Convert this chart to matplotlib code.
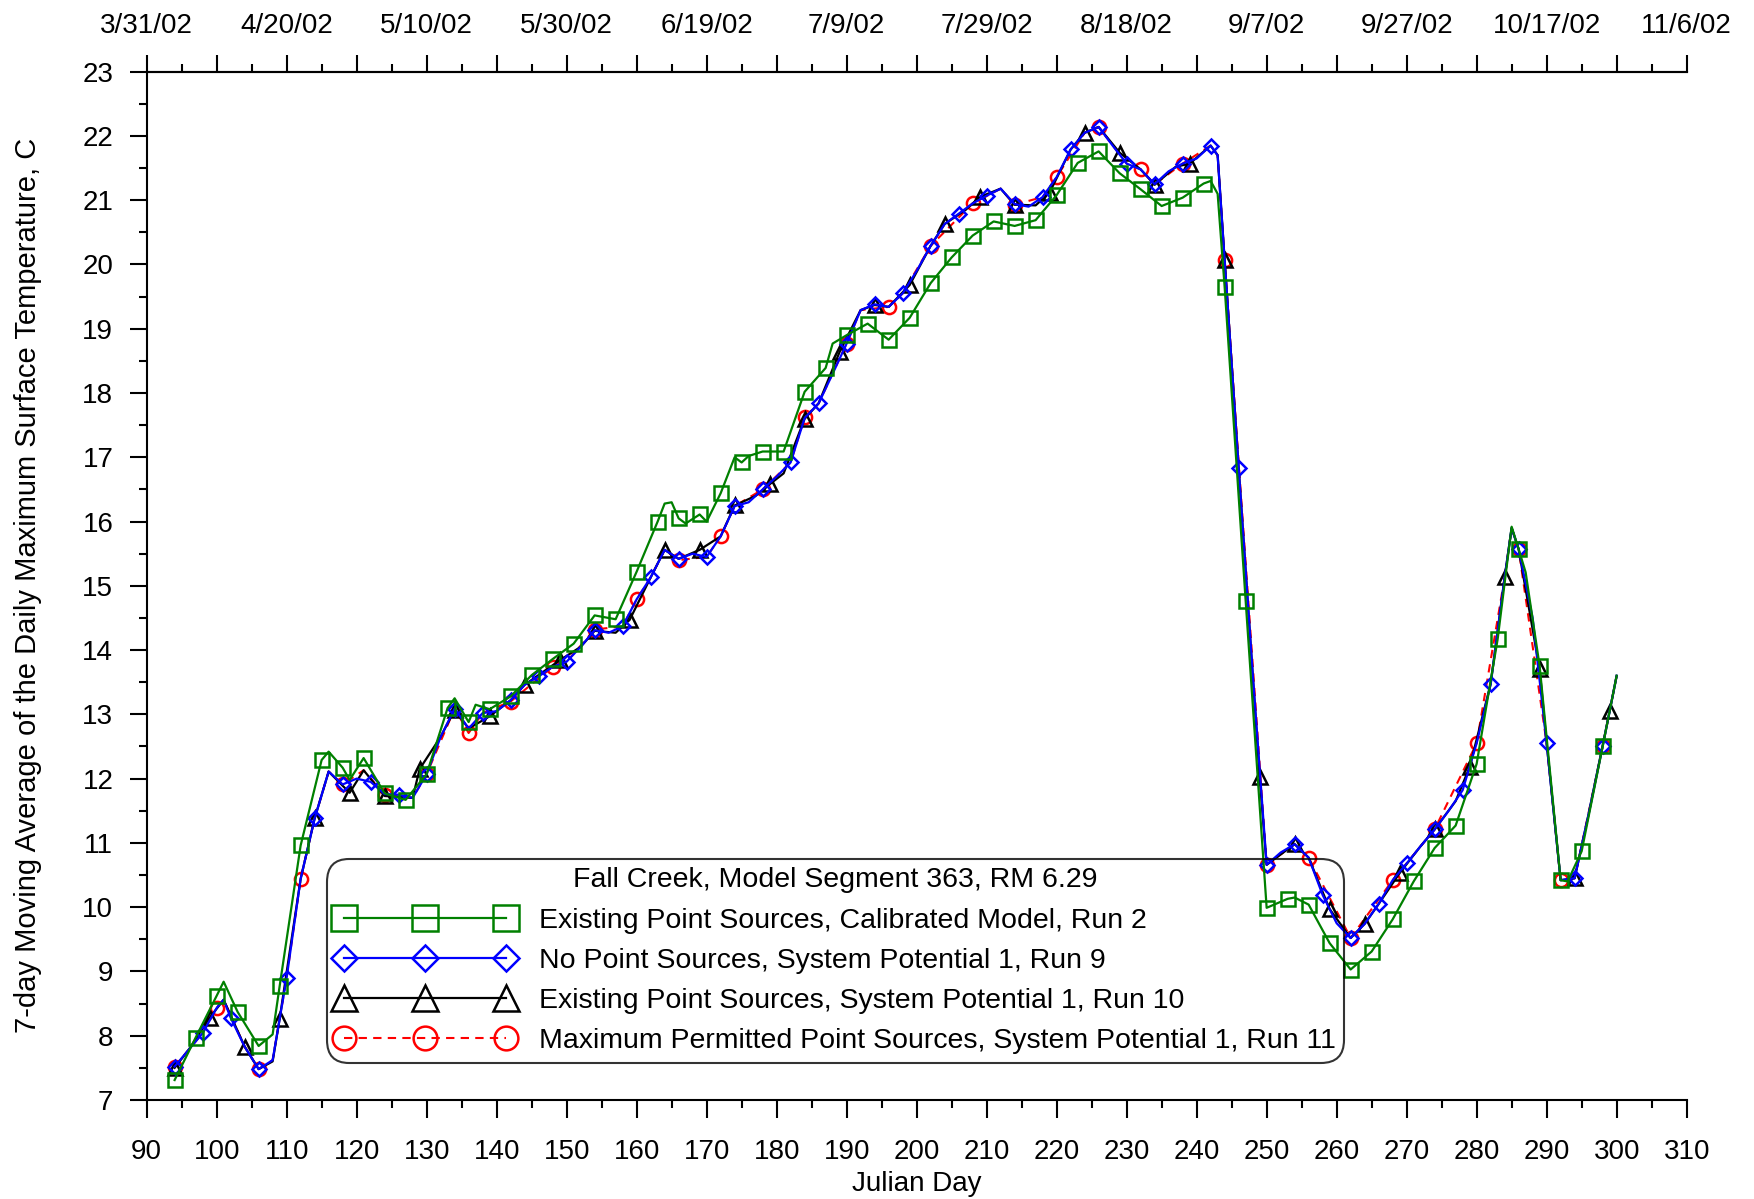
import datetime
import matplotlib
matplotlib.use("Agg")
import matplotlib.pyplot as plt
from matplotlib.ticker import MultipleLocator, FixedLocator, FuncFormatter

plt.rcParams['font.family'] = ['Liberation Sans', 'DejaVu Sans']

# Existing point sources, calibrated model (run 2) - green squares every 3 days
run2_day = [94, 97, 100, 101, 103, 106, 108, 109, 112, 115, 116, 118, 119, 121, 124, 127, 130, 133, 134, 136,
            137, 139, 142, 145, 148, 151, 154, 157, 160, 163, 164, 165, 166, 167, 169, 170, 172, 174, 175, 176,
            178, 181, 184, 187, 188, 190, 193, 196, 199, 202, 205, 208, 211, 214, 217, 220, 223, 226, 229, 232,
            235, 238, 241, 242, 243, 244, 247, 250, 253, 254, 256, 259, 262, 265, 268, 271, 274, 277, 280, 283,
            285, 286, 287, 289, 292, 293, 295, 298, 300]
run2_temp = [7.31, 7.97, 8.62, 8.84, 8.37, 7.84, 8.02, 8.77, 10.96, 12.29, 12.42, 12.17, 11.98, 12.32, 11.77, 11.67, 12.07, 13.10, 13.25, 12.88,
             13.15, 13.08, 13.28, 13.61, 13.86, 14.10, 14.54, 14.48, 15.22, 16.00, 16.28, 16.30, 16.05, 15.97, 16.11, 16.00, 16.44, 17.00, 16.92, 17.02,
             17.09, 17.09, 18.02, 18.39, 18.77, 18.90, 19.08, 18.83, 19.17, 19.71, 20.11, 20.45, 20.67, 20.60, 20.69, 21.08, 21.58, 21.76, 21.42, 21.17,
             20.91, 21.04, 21.26, 21.30, 21.10, 19.65, 14.77, 9.99, 10.13, 10.15, 10.04, 9.44, 9.03, 9.31, 9.81, 10.40, 10.92, 11.27, 12.23, 14.17,
             15.92, 15.57, 15.21, 13.75, 10.42, 10.40, 10.87, 12.50, 13.60]

# No point sources, system potential (run 9) - blue diamonds every 4 days
run9_day = [94, 96, 98, 100, 101, 102, 104, 106, 108, 110, 112, 114, 116, 118, 120, 122, 124, 126, 128, 130,
            132, 134, 136, 138, 140, 142, 144, 146, 148, 150, 152, 154, 156, 158, 160, 162, 164, 166, 168, 170,
            172, 174, 176, 178, 180, 182, 184, 186, 188, 190, 192, 194, 196, 198, 200, 202, 204, 206, 208, 210,
            212, 214, 216, 218, 220, 222, 224, 226, 228, 230, 232, 234, 236, 238, 240, 242, 243, 244, 246, 248,
            250, 252, 254, 256, 258, 260, 262, 264, 266, 268, 270, 272, 274, 276, 278, 280, 282, 284, 285, 286,
            288, 290, 292, 294, 296, 298, 300]
run9_temp = [7.52, 7.78, 8.04, 8.43, 8.56, 8.28, 7.83, 7.48, 7.62, 8.90, 10.44, 11.38, 12.11, 11.91, 12.00, 11.95, 11.76, 11.75, 11.70, 12.07,
             12.65, 13.09, 12.78, 13.02, 13.05, 13.22, 13.46, 13.59, 13.74, 13.82, 14.05, 14.31, 14.27, 14.37, 14.79, 15.13, 15.56, 15.42, 15.50, 15.45,
             15.77, 16.24, 16.30, 16.50, 16.70, 16.92, 17.61, 17.84, 18.30, 18.77, 19.29, 19.38, 19.34, 19.55, 19.90, 20.29, 20.63, 20.79, 20.95, 21.07,
             21.18, 20.94, 20.90, 21.05, 21.36, 21.79, 22.05, 22.14, 21.85, 21.57, 21.48, 21.25, 21.45, 21.57, 21.65, 21.85, 21.70, 20.07, 16.84, 13.65,
             10.66, 10.85, 10.98, 10.77, 10.19, 9.75, 9.52, 9.74, 10.05, 10.42, 10.68, 10.95, 11.21, 11.50, 11.82, 12.55, 13.47, 15.13, 15.90, 15.57,
             14.50, 12.55, 10.42, 10.45, 11.45, 12.50, 13.60]

# Existing point sources, system potential (run 10) - black triangles every 5 days
run10_day = [94, 96, 99, 101, 104, 106, 108, 109, 112, 114, 116, 119, 121, 124, 128, 129, 132, 134, 136, 139,
             142, 144, 149, 152, 154, 157, 159, 162, 164, 166, 169, 172, 174, 177, 179, 181, 184, 186, 189, 192,
             194, 196, 199, 202, 204, 207, 209, 212, 214, 217, 219, 222, 224, 226, 229, 232, 234, 237, 239, 242,
             243, 244, 246, 249, 250, 254, 256, 259, 262, 264, 266, 269, 272, 274, 277, 279, 282, 284, 285, 286,
             289, 290, 292, 294, 296, 299, 300]
run10_temp = [7.50, 7.78, 8.28, 8.56, 7.83, 7.48, 7.60, 8.26, 10.44, 11.38, 12.11, 11.78, 12.13, 11.73, 11.70, 12.15, 12.65, 13.07, 12.78, 12.97,
              13.22, 13.46, 13.84, 14.05, 14.30, 14.27, 14.47, 15.13, 15.56, 15.42, 15.56, 15.77, 16.25, 16.40, 16.58, 16.75, 17.60, 17.84, 18.64, 19.29,
              19.37, 19.34, 19.68, 20.29, 20.63, 20.85, 21.05, 21.18, 20.93, 20.92, 21.12, 21.79, 22.05, 22.14, 21.74, 21.48, 21.24, 21.52, 21.57, 21.85,
              21.70, 20.07, 16.84, 12.02, 10.66, 10.98, 10.77, 9.97, 9.52, 9.74, 10.05, 10.53, 10.95, 11.21, 11.65, 12.18, 13.47, 15.13, 15.90, 15.57,
              13.70, 12.55, 10.42, 10.45, 11.45, 13.05, 13.60]

# Maximum permitted point sources, system potential (run 11) - red circles every 6 days
run11_day = [94, 98, 100, 101, 104, 106, 108, 110, 112, 114, 116, 118, 121, 124, 128, 130, 134, 136, 138, 142,
             148, 150, 154, 158, 160, 162, 164, 166, 170, 172, 174, 178, 182, 184, 186, 190, 192, 196, 198, 202,
             208, 212, 214, 218, 220, 224, 226, 230, 232, 234, 238, 242, 243, 244, 250, 254, 256, 262, 268, 274,
             280, 284, 285, 286, 290, 292, 294, 298, 300]
run11_temp = [7.52, 8.04, 8.43, 8.56, 7.83, 7.48, 7.62, 8.90, 10.44, 11.38, 12.11, 11.91, 12.13, 11.75, 11.70, 12.07, 13.09, 12.71, 13.02, 13.20,
              13.74, 13.82, 14.32, 14.37, 14.79, 15.13, 15.56, 15.40, 15.45, 15.77, 16.24, 16.50, 16.92, 17.62, 17.84, 18.77, 19.29, 19.34, 19.55, 20.29,
              20.95, 21.18, 20.93, 21.05, 21.36, 22.05, 22.14, 21.57, 21.48, 21.25, 21.57, 21.85, 21.70, 20.07, 10.66, 10.98, 10.77, 9.52, 10.42, 11.21,
              12.55, 15.13, 15.90, 15.57, 12.55, 10.42, 10.45, 12.50, 13.60]

legend_title = "Fall Creek, Model Segment 363, RM 6.29"
labels = ["Existing Point Sources, Calibrated Model, Run 2",
          "No Point Sources, System Potential 1, Run 9",
          "Existing Point Sources, System Potential 1, Run 10",
          "Maximum Permitted Point Sources, System Potential 1, Run 11"]


def marks(days, step, first=94):
    return [(d - first) % step == 0 for d in days]


def date_label(jday):
    dt = datetime.date(2002, 1, 1) + datetime.timedelta(days=int(jday) - 1)
    return f"{dt.month}/{dt.day}/{dt:%y}"


fig = plt.figure(figsize=(17.54, 11.99), dpi=100)
ax = fig.add_axes([0.0836, 0.0826, 0.878, 0.8576])

h11, = ax.plot(run11_day, run11_temp, color='red', lw=1.5, ls=(0, (4, 3)), marker='o', ms=9.5,
               mfc='none', mec='red', mew=1.8, markevery=marks(run11_day, 6), zorder=2)
h10, = ax.plot(run10_day, run10_temp, color='black', lw=1.6, marker='^', ms=10.5, mfc='none',
               mec='black', mew=1.8, markevery=marks(run10_day, 5), zorder=3)
h9, = ax.plot(run9_day, run9_temp, color='blue', lw=1.6, marker='D', ms=7.2, mfc='none',
              mec='blue', mew=1.8, markevery=marks(run9_day, 4), zorder=4)
h2, = ax.plot(run2_day, run2_temp, color='green', lw=1.6, marker='s', ms=10.5, mfc='none',
              mec='green', mew=1.8, markevery=marks(run2_day, 3), zorder=5)

ax.set_xlim(90, 310)
ax.set_ylim(7, 23)
ax.xaxis.set_major_locator(MultipleLocator(10))
ax.xaxis.set_minor_locator(MultipleLocator(5))
ax.yaxis.set_major_locator(MultipleLocator(1))
ax.yaxis.set_minor_locator(MultipleLocator(0.5))
ax.spines['right'].set_visible(False)
for s in ['left', 'bottom', 'top']:
    ax.spines[s].set_linewidth(1.5)
ax.tick_params(axis='x', which='major', direction='out', length=13, width=1.5, labelsize=20, pad=15)
ax.tick_params(axis='y', which='major', direction='out', length=12, width=1.5, labelsize=20, pad=12)
ax.tick_params(which='minor', direction='out', length=6, width=1.5)

ax.set_xlabel("Julian Day", fontsize=20)
ax.set_ylabel("7-day Moving Average of the Daily Maximum Surface Temperature, C", fontsize=21)
ax.xaxis.set_label_coords(0.5, -0.0695)
ax.yaxis.set_label_coords(-0.068, 0.5)

top = ax.twiny()
top.set_xlim(90, 310)
top.xaxis.set_major_locator(FixedLocator(list(range(90, 311, 10))))
top.xaxis.set_minor_locator(MultipleLocator(5))
top.xaxis.set_major_formatter(FuncFormatter(lambda v, p: date_label(v) if int(round(v - 90)) % 20 == 0 else ''))
top.tick_params(which='major', direction='out', length=12, width=1.5, labelsize=20, pad=11.5)
top.tick_params(which='minor', direction='out', length=6, width=1.5)
for s in ['right', 'left', 'bottom']:
    top.spines[s].set_visible(False)
top.spines['top'].set_linewidth(1.5)

leg = ax.legend([h2, h9, h10, h11], labels, title=legend_title, loc='lower left',
                bbox_to_anchor=(0.1168, 0.036), borderaxespad=0, fontsize=20.5, title_fontsize=20.5,
                numpoints=3, markerscale=1.8, handlelength=6.3, handletextpad=0.85, borderpad=0.3,
                labelspacing=0.5, fancybox=True, edgecolor='black')
frame = leg.get_frame()
frame.set_facecolor('none')
frame.set_linewidth(1.5)
frame.set_boxstyle('round', pad=0, rounding_size=0.8)
leg.set_zorder(10)

fig.savefig("out.png", dpi=100)
